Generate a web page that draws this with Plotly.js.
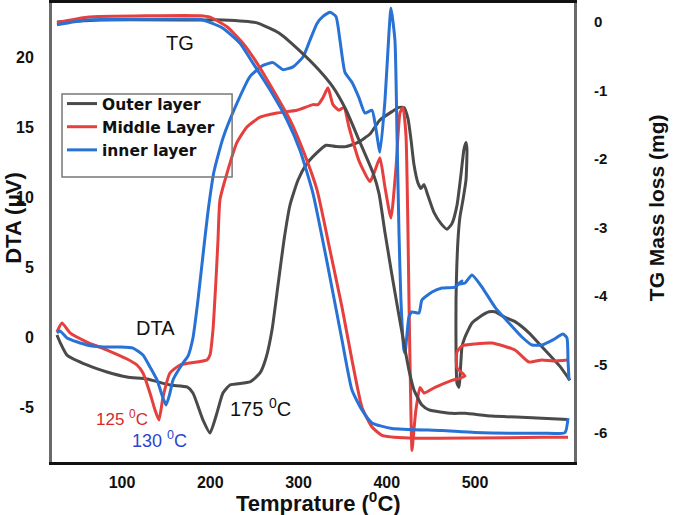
<!DOCTYPE html>
<html><head><meta charset="utf-8">
<script src="https://cdn.plot.ly/plotly-3.0.1.min.js"></script>
<style>html,body{margin:0;padding:0;background:#fff}#chart{width:679px;height:515px}</style>
</head><body><div id="chart"></div>
<script>
// ---- Data (temperature in °C, DTA in µV, TG in mg) ----
const outerDtaT = [26.3,29.7,37.7,60.3,83.0,105.7,128.3,154.4,173.7,180.4,191.8,199.7,207.6,214.4,222.4,245.0,256.4,263.2,270.0,276.8,283.6,290.4,299.4,308.5,319.8,331.2,342.5,353.8,367.4,381.0,392.3,405.9,413.9,419.5,424.1,427.5,430.9,435.4,438.8,442.2,446.7,453.5,461.5,468.3,473.9,479.6,484.1,487.5,489.8,490.9,489.8,486.4,483.0,480.7,478.5,478.5,479.6,481.9,483.0,485.3,488.7,496.6,504.5,515.9,522.6,534.0,545.3,561.2,575.9,596.3,607.6];
const outerDta  = [0.14,-0.36,-1.29,-2.0,-2.5,-2.86,-3.0,-3.43,-3.57,-4.0,-5.93,-6.86,-5.43,-4.0,-3.43,-3.21,-2.57,-1.5,0.5,3.71,6.93,9.43,11.2,12.3,13.1,13.7,13.6,13.6,13.9,14.5,15.5,16.1,16.4,16.4,15.6,14.1,12.3,11.0,10.6,10.9,10.1,8.9,8.1,7.7,8.1,9.4,11.6,13.4,13.9,13.4,11.2,9.8,8.6,6.9,2.6,-0.9,-3.3,-3.6,-2.9,-0.7,0.0,1.0,1.4,1.8,1.8,1.4,1.1,0.3,-0.7,-2.1,-3.1];

const middleDtaT = [26.3,32.0,41.1,60.3,83.0,105.7,117.0,123.8,131.7,137.4,141.9,146.5,154.4,165.7,196.3,199.7,203.1,206.5,208.8,211.0,219.0,230.3,241.6,256.4,275.6,298.3,316.4,322.1,327.8,333.4,339.1,345.9,351.6,357.2,368.5,381.0,386.7,392.3,398.0,404.8,410.5,415.0,418.4,421.8,424.1,425.2,427.5,428.6,430.9,433.1,437.7,442.2,454.7,473.9,488.7,479.6,479.6,485.3,500.0,519.2,545.3,561.2,575.9,588.4,605.4];
const middleDta  = [0.36,1.0,0.29,-0.36,-0.93,-1.57,-2.0,-2.57,-4.0,-5.21,-5.93,-4.29,-2.57,-2.0,-1.64,-1.29,0.5,4.07,6.93,9.79,11.7,13.9,15.0,15.7,16.0,16.2,16.6,16.6,17.1,17.8,16.6,16.2,16.4,15.0,12.6,11.1,11.9,12.8,10.7,8.5,12.1,16.0,16.4,14.4,7.4,2.6,-5.7,-8.1,-6.6,-5.2,-3.6,-4.0,-3.6,-3.1,-2.8,-2.2,-1.07,-0.64,-0.5,-0.43,-0.93,-1.79,-1.64,-1.71,-1.64];

const innerDtaT = [26.3,29.7,37.7,60.3,78.5,97.7,112.5,123.8,131.7,139.7,145.3,149.9,154.4,157.8,169.1,174.8,180.4,186.1,191.8,197.4,204.2,214.4,230.3,245.0,259.8,271.1,282.4,293.8,305.1,313.0,321.0,327.8,335.7,342.5,347.0,352.7,360.6,368.5,375.3,383.3,386.7,392.3,398.0,402.5,404.8,409.3,411.6,413.9,416.1,419.5,420.7,425.2,428.6,436.5,439.9,451.3,462.6,477.3,485.3,480.7,488.7,496.6,507.9,522.6,538.5,553.2,564.6,575.9,588.4,599.7,604.2,605.4,606.5];
const innerDta  = [0.29,0.43,-0.07,-0.57,-0.71,-0.71,-0.79,-1.29,-2.14,-3.07,-4.14,-4.86,-4.0,-3.07,-1.86,-1.36,-0.07,2.64,5.86,8.93,11.8,14.2,16.7,18.6,19.4,19.6,19.1,19.3,20.0,21.2,22.4,22.9,23.2,22.9,21.2,18.9,18.2,17.1,16.0,16.2,15.3,13.2,16.9,21.7,23.5,21.2,14.6,7.4,2.6,-0.93,-1.14,1.43,1.79,1.71,2.64,3.21,3.5,3.57,4.0,3.79,3.86,4.43,3.57,2.14,1.0,0.0,-0.57,-0.57,-0.21,0.21,-0.07,-1.64,-3.07];

const outerTgT = [26.3,75.1,188.4,214.4,251.8,277.9,300.6,323.2,339.1,353.8,368.5,384.4,391.2,398.0,405.9,412.7,419.5,425.2,430.9,439.9,447.9,473.9,488.7,519.2,575.9,605.4];
const outerTg  = [0.0,0.03,0.03,0.03,-0.01,-0.16,-0.41,-0.70,-0.95,-1.28,-1.72,-2.20,-2.50,-3.07,-3.69,-4.20,-4.69,-5.08,-5.37,-5.59,-5.66,-5.71,-5.71,-5.75,-5.78,-5.80];

const middleTgT = [26.3,60.3,131.7,188.4,199.7,219.0,237.1,253.0,271.1,290.4,305.1,321.0,335.7,349.3,360.6,371.9,383.3,394.6,425.2,500.0,575.9,605.4];
const middleTg  = [-0.01,0.07,0.09,0.09,0.07,-0.07,-0.31,-0.60,-0.99,-1.43,-1.87,-2.45,-3.33,-4.16,-4.93,-5.62,-5.91,-6.03,-6.07,-6.07,-6.06,-6.06];

const innerTgT = [26.3,60.3,131.7,188.4,196.3,214.4,233.7,248.4,267.7,287.0,301.7,316.4,332.3,349.3,360.6,371.9,383.3,405.9,462.6,500.0,575.9,602.0,605.4];
const innerTg  = [-0.04,0.03,0.04,0.04,0.01,-0.09,-0.31,-0.60,-0.99,-1.43,-1.87,-2.50,-3.50,-4.64,-5.37,-5.66,-5.85,-5.93,-5.96,-5.99,-6.00,-5.99,-5.78];

const seriesNames = ['Outer layer','Middle Layer','inner layer'];
const xTicks = [100,200,300,400,500];
const dtaTicks = [-5,0,5,10,15,20];
const tgTicks = [-6,-5,-4,-3,-2,-1,0];

// ---- Styling ----
const GRAY = '#4a4a4a', RED = '#e5403e', BLUE = '#2872d6';
const FONT = 'Liberation Sans, Arial, Helvetica, sans-serif';
const WIDE = 'DejaVu Sans, Verdana, sans-serif';
const lw = 3;
function tr(x, y, name, color, axis, show) {
  return {x: x, y: y, name: name, type: 'scatter', mode: 'lines', yaxis: axis,
    line: {color: color, width: lw, shape: 'spline', smoothing: 0.5}, showlegend: show,
    hoverinfo: 'skip'};
}
const data = [
  tr(outerTgT, outerTg, seriesNames[0], GRAY, 'y2', false),
  tr(middleTgT, middleTg, seriesNames[1], RED, 'y2', false),
  tr(innerTgT, innerTg, seriesNames[2], BLUE, 'y2', false),
  tr(outerDtaT, outerDta, seriesNames[0], GRAY, 'y', true),
  tr(middleDtaT, middleDta, seriesNames[1], RED, 'y', true),
  tr(innerDtaT, innerDta, seriesNames[2], BLUE, 'y', true)
];

const tickFont = {family: FONT, size: 16, color: '#111', weight: 'bold'};
const layout = {
  width: 679, height: 515,
  margin: {l: 52, r: 105, t: 3, b: 53},
  paper_bgcolor: '#fff', plot_bgcolor: '#fff',
  showlegend: true,
  legend: {x: 0.0192, y: 0.817, xanchor: 'left', yanchor: 'top', bgcolor: 'rgba(0,0,0,0)',
    font: {family: WIDE, size: 15.5, color: '#111', weight: 'bold'}, itemwidth: 30, tracegroupgap: 0},
  xaxis: {range: [20.7, 612.2], tickvals: xTicks, ticktext: xTicks.map(String), showgrid: false, zeroline: false,
    showline: true, mirror: true, linecolor: '#111', linewidth: 3, ticks: '', tickfont: tickFont, ticklabelstandoff: 4},
  yaxis: {range: [-8.93, 23.86], tickvals: dtaTicks, ticktext: dtaTicks.map(String), showgrid: false, zeroline: false,
    showline: true, linecolor: '#6a6a6a', linewidth: 3, ticks: '', tickfont: tickFont, ticklabelstandoff: 12},
  yaxis2: {range: [-6.42, 0.277], tickvals: tgTicks, ticktext: tgTicks.map(String), overlaying: 'y', side: 'right',
    showgrid: false, zeroline: false, showline: true, linecolor: '#6a6a6a', linewidth: 3, ticks: '',
    tickfont: {family: FONT, size: 15, color: '#111', weight: 'bold'}, ticklabelstandoff: 14},
  shapes: [
    {type: 'rect', xref: 'paper', yref: 'paper', x0: 0.0192, x1: 0.345, y0: 0.621, y1: 0.802,
      line: {color: '#777', width: 1.5}, fillcolor: 'rgba(0,0,0,0)'}
  ],
  annotations: [
    {xref: 'paper', yref: 'paper', x: 0, y: 0.532, xshift: -38, xanchor: 'center', yanchor: 'middle', textangle: -90, showarrow: false,
      text: 'DTA (μV)', font: {family: FONT, size: 22, color: '#111', weight: 'bold'}},
    {xref: 'paper', yref: 'paper', x: 1, y: 0.553, xshift: 82, xanchor: 'center', yanchor: 'middle', textangle: -90, showarrow: false,
      text: 'TG Mass loss (mg)', font: {family: FONT, size: 21, color: '#111', weight: 'bold'}},
    {xref: 'paper', yref: 'paper', x: 0.5, y: 0, yshift: -40, xshift: 5, xanchor: 'center', yanchor: 'middle', showarrow: false,
      text: 'Temprature (<sup>0</sup>C)', font: {family: FONT, size: 22, color: '#111', weight: 'bold'}},
    {xref: 'x', yref: 'y', x: 165.7, y: 21.0, showarrow: false, text: 'TG',
      font: {family: FONT, size: 20, color: '#111'}},
    {xref: 'x', yref: 'y', x: 138.5, y: 0.64, showarrow: false, text: 'DTA',
      font: {family: FONT, size: 20, color: '#111'}},
    {xref: 'x', yref: 'y', x: 100, y: -5.8, showarrow: false, text: '125 <sup>0</sup>C',
      font: {family: FONT, size: 17, color: '#d42a2a'}},
    {xref: 'x', yref: 'y', x: 143, y: -7.35, showarrow: false, text: '130 <sup>0</sup>C',
      font: {family: FONT, size: 18, color: '#2c44d0'}},
    {xref: 'x', yref: 'y', x: 257.5, y: -5.07, showarrow: false, text: '175 <sup>0</sup>C',
      font: {family: FONT, size: 20, color: '#111'}}
  ]
};
Plotly.newPlot('chart', data, layout, {displayModeBar: false, staticPlot: true});
</script></body></html>
